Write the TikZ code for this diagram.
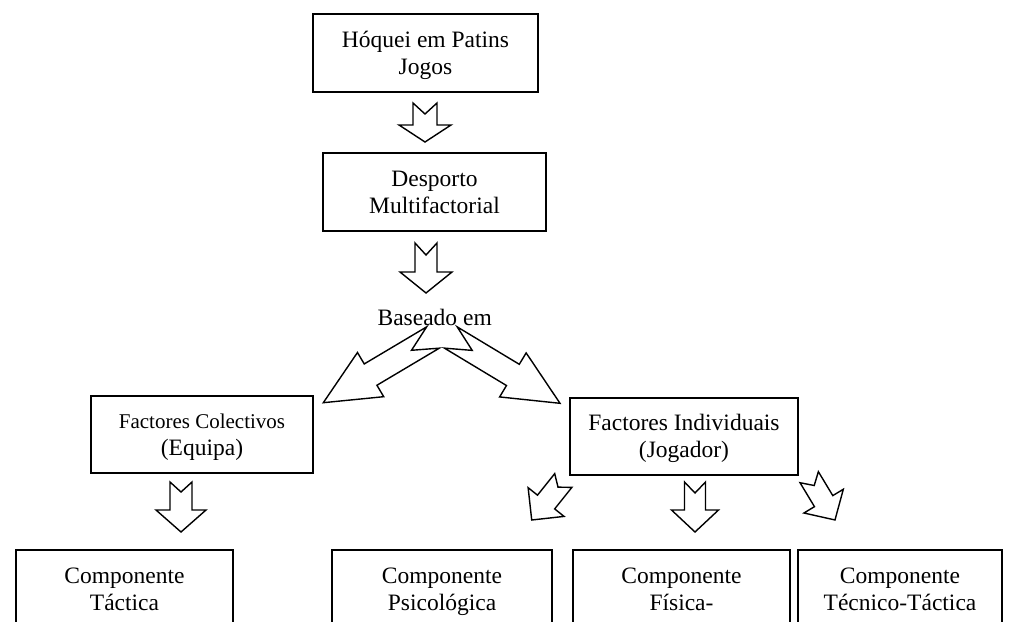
\documentclass[tikz,border=0pt]{standalone}
\usepackage{fontspec}
\setmainfont{Liberation Serif}
\usetikzlibrary{calc}

% Notched block arrow from a tail point to a tip point:
% #3 shaft half-width, #4 head half-width, #5 head length, #6 notch depth
\newcommand\notcharrow[6]{%
  \draw[arrowline] let \p1=(#1), \p2=(#2),
      \n1={atan2(\y2-\y1,\x2-\x1)}, \n2={veclen(\x2-\x1,\y2-\y1)} in
    [shift={(\p1)}, rotate=\n1]
    (0,#3) -- (#6,0) -- (0,-#3) -- ({\n2-#5},-#3) -- ({\n2-#5},-#4)
    -- (\n2,0) -- ({\n2-#5},#4) -- ({\n2-#5},#3) -- cycle;}

\begin{document}
\begin{tikzpicture}[x=1pt,y=-1pt,
  txt/.style={font=\fontsize{23.5}{27}\selectfont},
  box/.style={txt, draw, line width=1.8pt, inner sep=0pt, align=center,
    text height=42pt, text depth=0pt},
  compbox/.style={box, anchor=base, text height=60pt, text depth=40pt},
  arrowline/.style={draw, line width=1.4pt, line join=miter, fill=white},
  caption/.style={txt, inner sep=0pt}]
\useasboundingbox[fill=white] (0,0) rectangle (1017,621);
\clip (0,0) rectangle (1017,621);

% boxes
\node[box, minimum width=225pt, minimum height=78pt] (hoquei) at (425.5,53) {Hóquei em Patins\\Jogos};
\node[box, minimum width=223pt, minimum height=78pt] (desporto) at (434.5,192) {Desporto\\Multifactorial};
\node[caption, anchor=base] (baseado) at (434.7,325) {Baseado em};
\node[box, minimum width=222pt, minimum height=77pt, text height=41pt] (colectivos) at (202,434.5)
  {{\fontsize{21}{27}\selectfont Factores Colectivos}\\(Equipa)};
\node[box, minimum width=228pt, minimum height=77pt, text height=41pt] (individuais) at (684,436.5) {Factores Individuais\\(Jogador)};

% bottom row, running past the lower edge
\node[compbox, minimum width=217pt] (tactica) at (124.5,610) {Componente\\Táctica};
\node[compbox, minimum width=220pt] (psico) at (442,610) {Componente\\Psicológica};
\node[compbox, minimum width=217pt] (fisica) at (681.5,610) {Componente\\Física-};
\node[compbox, minimum width=204pt] (tecnico) at (900,610) {Componente\\Técnico-Táctica};

% arrow ends
\coordinate (a1t) at (425,103);     \coordinate (a1h) at (425,142);
\coordinate (a2t) at (426,243);     \coordinate (a2h) at (426,293);
\coordinate (bLt) at (433,337.5);   \coordinate (bLh) at (323.3,402.7);
\coordinate (bRt) at (450.8,337.5); \coordinate (bRh) at (560,403.3);
\coordinate (cTt) at (181,482);     \coordinate (cTh) at (181,532);
\coordinate (iLt) at (563.3,480.5); \coordinate (iLh) at (531.7,520);
\coordinate (iMt) at (695,482);     \coordinate (iMh) at (695,532);
\coordinate (iRt) at (809.2,477.2); \coordinate (iRh) at (835,520);

% arrows
\notcharrow{a1t}{a1h}{12}{26}{17}{11}
\notcharrow{a2t}{a2h}{11}{26}{21}{12}
\notcharrow{bLt}{bLh}{12.4}{25.7}{55}{25}
\notcharrow{bRt}{bRh}{12.4}{25.7}{55}{25}
\notcharrow{cTt}{cTh}{11}{25}{22}{10}
\notcharrow{iLt}{iLh}{11}{23}{23}{8.5}
\notcharrow{iMt}{iMh}{10.5}{23.5}{22}{11}
\notcharrow{iRt}{iRh}{10.7}{23}{22}{9.7}
\end{tikzpicture}
\end{document}
